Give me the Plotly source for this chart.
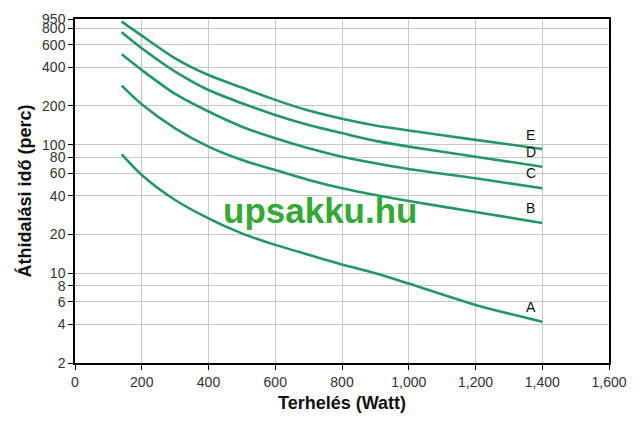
import math
import plotly.graph_objects as go

watts = [140, 200, 300, 400, 500, 600, 700, 800, 900, 1000, 1200, 1400]
series_A = [84, 58.1, 37.1, 26.7, 20.4, 16.6, 13.9, 11.7, 9.98, 8.3, 5.66, 4.19]
series_B = [288, 206, 134, 96.5, 76, 63.5, 53.1, 45.8, 40.6, 36.5, 29.9, 24.6]
series_C = [505, 381, 248, 181, 138, 112, 93.7, 80.6, 71.7, 64.7, 54.7, 45.8]
series_D = [749, 562, 370, 266, 210, 170, 142, 123, 107, 96.5, 80.6, 67.4]
series_E = [906, 705, 470, 348, 278, 223, 184, 159, 141, 129, 109, 92.6]
series_names = ["A", "B", "C", "D", "E"]
label_x = [1366, 1366, 1366, 1366, 1366]
label_y = [5.46, 32.2, 60.2, 87.7, 119]

y_ticks = [2, 4, 6, 8, 10, 20, 40, 60, 80, 100, 200, 400, 600, 800, 950]
x_ticks = [0, 200, 400, 600, 800, 1000, 1200, 1400, 1600]

FONT = "Arial, Liberation Sans, sans-serif"
LINE = "#24966a"

fig = go.Figure()
for name, vals in zip(series_names, [series_A, series_B, series_C, series_D, series_E]):
    fig.add_trace(go.Scatter(x=watts, y=vals, mode="lines", name=name,
                             line=dict(color=LINE, width=2.6, shape="spline", smoothing=0.8),
                             showlegend=False, hoverinfo="skip"))

for name, lx, ly in zip(series_names, label_x, label_y):
    fig.add_annotation(x=lx, y=math.log10(ly), yref="y", xref="x", text=name, showarrow=False,
                       font=dict(family=FONT, size=14, color="#111"))

fig.add_annotation(xref="paper", yref="paper", x=0.459, y=0.442, text="<b>upsakku.hu</b>",
                   showarrow=False, font=dict(family=FONT, size=35, color="#36a836"))

fig.update_layout(
    width=640, height=425,
    margin=dict(l=75, r=31, t=19, b=62),
    paper_bgcolor="white", plot_bgcolor="white",
    font=dict(family=FONT, size=14, color="#333"),
)
fig.update_xaxes(range=[0, 1600], tickvals=x_ticks, tickformat=",", showgrid=True,
                 gridcolor="#c8c8c8", gridwidth=1, showline=True, linecolor="black",
                 linewidth=1.5, mirror=True, ticks="outside", ticklen=5, tickcolor="black",
                 zeroline=False,
                 title=dict(text="<b>Terhelés (Watt)</b>", font=dict(size=18, color="#111"), standoff=8))
fig.update_yaxes(type="log", range=[math.log10(2), math.log10(950)], tickvals=y_ticks,
                 ticktext=[str(v) for v in y_ticks], showgrid=True, gridcolor="#c8c8c8",
                 gridwidth=1, showline=True, linecolor="black", linewidth=1.5, mirror=True,
                 ticks="outside", ticklen=5, tickcolor="black", zeroline=False,
                 title=dict(text="<b>Áthidalási idő (perc)</b>", font=dict(size=18, color="#111"), standoff=6))

fig.write_html("out.html")
